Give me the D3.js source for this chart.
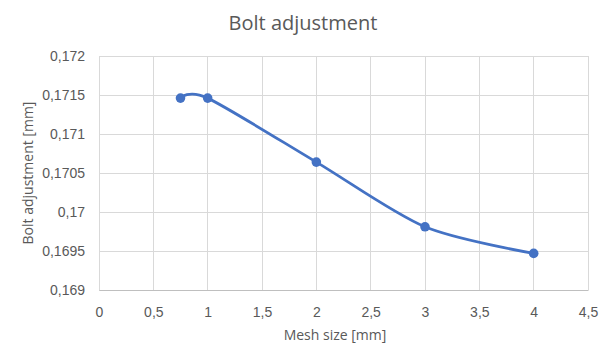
<!DOCTYPE html>
<html><head><meta charset="utf-8">
<script src="https://cdn.jsdelivr.net/npm/d3@7"></script>
<style>body{margin:0;background:#fff;}svg{display:block;font-family:"Open Sans","Liberation Sans",sans-serif;}</style>
</head><body>
<svg id="c" width="603" height="358"></svg>
<script>
const meshSize = [0.75, 1, 2, 3, 4];
const boltAdjustment = [0.17146, 0.17146, 0.17064, 0.16981, 0.16947];
const xTicks = [0, 0.5, 1, 1.5, 2, 2.5, 3, 3.5, 4, 4.5];
const yTicks = [0.169, 0.1695, 0.17, 0.1705, 0.171, 0.1715, 0.172];
const title = "Bolt adjustment";
const xTitle = "Mesh size [mm]";
const yTitle = "Bolt adjustment [mm]";

const svg = d3.select("#c");
const m = {l: 99, r: 588, t: 56, b: 290};
const x = d3.scaleLinear().domain([0, 4.5]).range([m.l, m.r]);
const y = d3.scaleLinear().domain([0.169, 0.172]).range([m.b, m.t]);
const fmt = v => String(+v.toFixed(5)).replace(".", ",");
const grey = "#595959";

// gridlines
svg.append("g").selectAll("line.h").data(yTicks).join("line")
  .attr("x1", m.l).attr("x2", m.r).attr("y1", d => y(d)).attr("y2", d => y(d))
  .attr("stroke", "#d9d9d9").attr("stroke-width", 1).attr("shape-rendering", "crispEdges");
svg.append("g").selectAll("line.v").data(xTicks).join("line")
  .attr("x1", d => x(d)).attr("x2", d => x(d)).attr("y1", m.t).attr("y2", m.b)
  .attr("stroke", "#d9d9d9").attr("stroke-width", 1).attr("shape-rendering", "crispEdges");

// axes labels via d3 axes
const ya = svg.append("g").attr("transform", `translate(${m.l},0)`)
  .call(d3.axisLeft(y).tickValues(yTicks).tickFormat(fmt).tickSize(0).tickPadding(14));
ya.select(".domain").remove();
ya.selectAll("text").attr("fill", grey).style("font-size", "14px");
const xa = svg.append("g").attr("transform", `translate(0,${m.b})`)
  .call(d3.axisBottom(x).tickValues(xTicks).tickFormat(fmt).tickSize(0).tickPadding(17));
xa.select(".domain").attr("stroke", "#bfbfbf");
xa.selectAll("text").attr("fill", grey).style("font-size", "14px");

// line
const pts = meshSize.map((d, i) => [d, boltAdjustment[i]]);
svg.append("path").datum(pts)
  .attr("d", d3.line().x(d => x(d[0])).y(d => y(d[1])).curve(d3.curveCardinal.tension(0.15)))
  .attr("fill", "none").attr("stroke", "#4472C4").attr("stroke-width", 2.8).attr("stroke-linecap", "round");
svg.append("g").selectAll("circle").data(pts).join("circle")
  .attr("cx", d => x(d[0])).attr("cy", d => y(d[1])).attr("r", 4.8).attr("fill", "#4472C4");

// titles
svg.append("text").attr("x", 303).attr("y", 30).attr("text-anchor", "middle")
  .attr("fill", grey).style("font-size", "20px").text(title);
svg.append("text").attr("x", 335).attr("y", 340).attr("text-anchor", "middle")
  .attr("fill", grey).style("font-size", "14px").text(xTitle);
svg.append("text").attr("transform", "translate(33,173) rotate(-90)").attr("text-anchor", "middle")
  .attr("fill", grey).style("font-size", "14px").text(yTitle);
</script>
</body></html>
